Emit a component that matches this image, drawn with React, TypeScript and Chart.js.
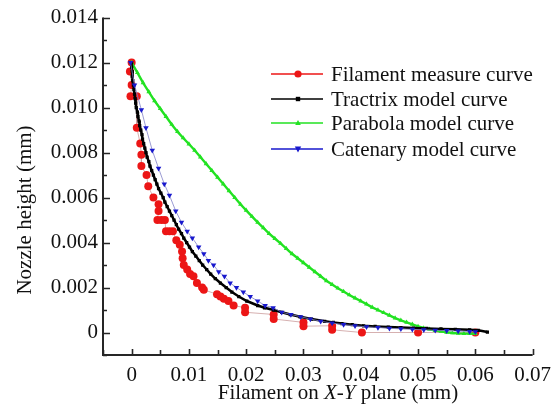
import React, { useEffect, useRef } from 'react';
import { Chart, registerables } from 'chart.js';

Chart.register(...registerables);

// ---------- data ----------
const seriesNames = [
  'Filament measure curve',
  'Tractrix model curve',
  'Parabola model curve',
  'Catenary model curve',
];

const measureX = [
  0.0000, -0.0003, 0.0000, -0.0002, 0.0009, 0.0009, 0.0015, 0.0017, 0.0017, 0.0026,
  0.0029, 0.0038, 0.0047, 0.0047, 0.0045, 0.0052, 0.0058, 0.0060, 0.0066, 0.0072,
  0.0078, 0.0084, 0.0088, 0.0089, 0.0091, 0.0097, 0.0102, 0.0108, 0.0114, 0.0123,
  0.0126, 0.0149, 0.0155, 0.0161, 0.0169, 0.0178, 0.0198, 0.0198, 0.0248, 0.0248,
  0.0300, 0.0300, 0.0350, 0.0350, 0.0402, 0.0500, 0.0600,
];
const measureY = [
  0.0120, 0.0116, 0.0110, 0.0105, 0.0105, 0.0091, 0.0084, 0.0079, 0.0074, 0.0070,
  0.0065, 0.0060, 0.0057, 0.0054, 0.0050, 0.0050, 0.0050, 0.0045, 0.0045, 0.0045,
  0.0041, 0.0039, 0.0036, 0.0033, 0.0030, 0.0028, 0.0026, 0.0025, 0.0022, 0.0020,
  0.0019, 0.0017, 0.0016, 0.0015, 0.0014, 0.0012, 0.0011, 0.0009, 0.0008, 0.0006,
  0.00045, 0.00028, 0.00030, 0.00012, 0.0000, 0.0000, 0.0000,
];

const tractrixX = [
  0.0000, 0.0000, 0.0001, 0.0001, 0.0002, 0.0003, 0.0004, 0.0005, 0.0006, 0.0007,
  0.0008, 0.0010, 0.0011, 0.0013, 0.0014, 0.0016, 0.0018, 0.0019, 0.0021, 0.0023,
  0.0025, 0.0027, 0.0030, 0.0032, 0.0035, 0.0038, 0.0041, 0.0044, 0.0047, 0.0051,
  0.0055, 0.0058, 0.0062, 0.0066, 0.0070, 0.0074, 0.0078, 0.0082, 0.0087, 0.0091,
  0.0096, 0.0101, 0.0106, 0.0112, 0.0118, 0.0124, 0.0131, 0.0138, 0.0146, 0.0155,
  0.0165, 0.0175, 0.0187, 0.0201, 0.0220, 0.0232, 0.0248, 0.0262, 0.0277, 0.0294,
  0.0314, 0.0337, 0.0352, 0.0367, 0.0385, 0.0405, 0.0425, 0.0448, 0.0470, 0.0492,
  0.0515, 0.0540, 0.0565, 0.0590, 0.0605, 0.0621,
];
const tractrixY = [
  0.0120, 0.0118, 0.0116, 0.0114, 0.0112, 0.0110, 0.0108, 0.0106, 0.0104, 0.0102,
  0.0100, 0.0098, 0.0096, 0.0094, 0.0092, 0.0090, 0.0088, 0.0086, 0.0084, 0.0082,
  0.0080, 0.0078, 0.0076, 0.0074, 0.0072, 0.0070, 0.0068, 0.0066, 0.0064, 0.0062,
  0.0060, 0.0058, 0.0056, 0.0054, 0.0052, 0.0050, 0.0048, 0.0046, 0.0044, 0.0042,
  0.0040, 0.0038, 0.0036, 0.0034, 0.0032, 0.0030, 0.0028, 0.0026, 0.0024, 0.0022,
  0.0020, 0.0018, 0.0016, 0.0014, 0.0012, 0.0011, 0.0010, 0.0009, 0.0008, 0.0007,
  0.0006, 0.0005, 0.00045, 0.0004, 0.00035, 0.0003, 0.00027, 0.00024, 0.00022, 0.0002,
  0.00018, 0.00016, 0.00014, 0.00012, 0.0001, 0.00002,
];

const parabolaX = [
  0.000, 0.001, 0.002, 0.003, 0.004, 0.005, 0.006, 0.007, 0.008, 0.009,
  0.010, 0.011, 0.012, 0.013, 0.014, 0.015, 0.016, 0.017, 0.018, 0.019,
  0.020, 0.021, 0.022, 0.023, 0.024, 0.025, 0.026, 0.027, 0.028, 0.029,
  0.030, 0.031, 0.032, 0.033, 0.034, 0.035, 0.036, 0.037, 0.038, 0.039,
  0.040, 0.041, 0.042, 0.043, 0.044, 0.045, 0.046, 0.047, 0.048, 0.049,
  0.050, 0.051, 0.052, 0.053, 0.054, 0.055, 0.056, 0.057, 0.058, 0.059, 0.060,
];
const parabolaY = [
  0.01200, 0.01155, 0.01110, 0.01070, 0.01030, 0.00995, 0.00960, 0.00925, 0.00893, 0.00865,
  0.00838, 0.00810, 0.00780, 0.00750, 0.00720, 0.00690, 0.00660, 0.00630, 0.00600, 0.00570,
  0.00543, 0.00516, 0.00490, 0.00465, 0.00440, 0.00418, 0.00396, 0.00373, 0.00350, 0.00330,
  0.00310, 0.00290, 0.00270, 0.00250, 0.00230, 0.00213, 0.00197, 0.00182, 0.00167, 0.00153,
  0.00140, 0.00126, 0.00112, 0.00100, 0.00088, 0.00076, 0.00064, 0.00054, 0.00045, 0.00036,
  0.00027, 0.00020, 0.00014, 0.00009, 0.00005, 0.00001, -0.00002, -0.00004, -0.00005, -0.00005, -0.00005,
];

const catenaryX = [
  -0.0002, 0.0005, 0.0017, 0.0025, 0.0036, 0.0047, 0.0057, 0.0066, 0.0077, 0.0087,
  0.0097, 0.0106, 0.0117, 0.0126, 0.0134, 0.0143, 0.0152, 0.0162, 0.0172, 0.0183,
  0.0195, 0.0207, 0.0220, 0.0233, 0.0247, 0.0262, 0.0278, 0.0295, 0.0312, 0.0330,
  0.0350, 0.0370, 0.0390, 0.0410, 0.0430, 0.0450, 0.0470, 0.0490, 0.0510, 0.0530,
  0.0550, 0.0570, 0.0590, 0.0600,
];
const catenaryY = [
  0.0120, 0.0110, 0.0099, 0.0091, 0.0081, 0.0073, 0.0066, 0.0061, 0.0054, 0.0049,
  0.0045, 0.0042, 0.0038, 0.0035, 0.0032, 0.0030, 0.0027, 0.0025, 0.0022, 0.0020,
  0.0018, 0.0016, 0.0014, 0.0012, 0.0011, 0.0009, 0.0008, 0.0007, 0.0006, 0.0005,
  0.00042, 0.00035, 0.00030, 0.00025, 0.00022, 0.00019, 0.00016, 0.00014, 0.00012, 0.00010,
  0.00008, 0.00006, 0.00004, 0.00003,
];

const xTickLabels = ['0', '0.01', '0.02', '0.03', '0.04', '0.05', '0.06', '0.07'];
const yTickLabels = ['0', '0.002', '0.004', '0.006', '0.008', '0.010', '0.012', '0.014'];

// ---------- styling ----------
const FONT = '"Liberation Serif", "Times New Roman", serif';
const RED = 'rgb(236,22,22)';
const BLACK = '#000000';
const GREEN = 'rgb(34,226,34)';
const BLUE = 'rgb(24,24,205)';

const toPts = (xs: number[], ys: number[]) => xs.map((x, i) => ({ x, y: ys[i] }));

const decorPlugin = {
  id: 'decor',
  afterDraw(chart: any) {
    const ctx = chart.ctx as CanvasRenderingContext2D;
    const { left, right, top, bottom } = chart.chartArea;
    const xs = chart.scales.x;
    const ys = chart.scales.y;
    ctx.save();
    // axis lines
    ctx.strokeStyle = '#262626';
    ctx.lineWidth = 2;
    ctx.beginPath();
    ctx.moveTo(left, top);
    ctx.lineTo(left, bottom);
    ctx.lineTo(right, bottom);
    ctx.stroke();
    // inward ticks
    ctx.lineWidth = 1.6;
    ctx.beginPath();
    ys.ticks.forEach((t: any) => {
      const k = Math.round(t.value * 1000);
      const p = Math.round(ys.getPixelForValue(t.value)) + 0.5;
      const len = k % 2 === 0 && k >= 0 ? 7 : 4;
      ctx.moveTo(left, p);
      ctx.lineTo(left + len, p);
    });
    xs.ticks.forEach((t: any) => {
      const k = Math.round(t.value * 1000);
      const p = Math.round(xs.getPixelForValue(t.value)) + 0.5;
      const len = k % 10 === 0 && k >= 0 ? 6 : 5;
      ctx.moveTo(p, bottom);
      ctx.lineTo(p, bottom - len);
    });
    ctx.stroke();

    // axis titles
    ctx.fillStyle = '#111';
    ctx.textBaseline = 'alphabetic';
    const normal = `21px ${FONT}`;
    const italic = `italic 21px ${FONT}`;
    const parts: [string, string][] = [
      ['Filament on ', normal],
      ['X', italic],
      ['-', normal],
      ['Y', italic],
      [' plane (mm)', normal],
    ];
    let total = 0;
    parts.forEach(([s, f]) => {
      ctx.font = f;
      total += ctx.measureText(s).width;
    });
    let cx = 338 - total / 2;
    ctx.textAlign = 'left';
    parts.forEach(([s, f]) => {
      ctx.font = f;
      ctx.fillText(s, cx, 399);
      cx += ctx.measureText(s).width;
    });

    ctx.save();
    ctx.translate(31, 210);
    ctx.rotate(-Math.PI / 2);
    ctx.font = normal;
    ctx.textAlign = 'center';
    ctx.fillText('Nozzle height (mm)', 0, 0);
    ctx.restore();

    // legend
    const colors = [RED, BLACK, GREEN, BLUE];
    const rows = [74, 99, 123, 149];
    rows.forEach((yy, i) => {
      ctx.strokeStyle = colors[i];
      ctx.lineWidth = 1.6;
      ctx.beginPath();
      ctx.moveTo(271, yy);
      ctx.lineTo(323, yy);
      ctx.stroke();
      ctx.fillStyle = colors[i];
      const mx = 298;
      ctx.beginPath();
      if (i === 0) {
        ctx.arc(mx, yy, 3.6, 0, Math.PI * 2);
      } else if (i === 1) {
        ctx.rect(mx - 2.2, yy - 2.2, 4.4, 4.4);
      } else if (i === 2) {
        ctx.moveTo(mx, yy - 3);
        ctx.lineTo(mx + 2.8, yy + 2);
        ctx.lineTo(mx - 2.8, yy + 2);
        ctx.closePath();
      } else {
        ctx.moveTo(mx - 3.2, yy - 2.5);
        ctx.lineTo(mx + 3.2, yy - 2.5);
        ctx.lineTo(mx, yy + 3.5);
        ctx.closePath();
      }
      ctx.fill();
      ctx.fillStyle = '#111';
      ctx.font = normal;
      ctx.textAlign = 'left';
      ctx.textBaseline = 'middle';
      ctx.fillText(seriesNames[i], 331, yy + 1);
    });
    ctx.restore();
  },
};

export default function App() {
  const ref = useRef<HTMLCanvasElement | null>(null);

  useEffect(() => {
    if (!ref.current) return;
    const chart = new Chart(ref.current, {
      type: 'scatter',
      data: {
        datasets: [
          {
            label: seriesNames[0],
            data: toPts(measureX, measureY),
            showLine: true,
            borderColor: 'rgba(200,150,150,0.75)',
            borderWidth: 1,
            pointStyle: 'circle',
            pointRadius: 4,
            pointBackgroundColor: RED,
            pointBorderWidth: 0,
            order: 3,
          },
          {
            label: seriesNames[1],
            data: toPts(tractrixX, tractrixY),
            showLine: true,
            borderColor: BLACK,
            borderWidth: 2.5,
            pointStyle: 'rect',
            pointRadius: 2.3,
            pointBackgroundColor: BLACK,
            pointBorderWidth: 0,
            order: 1,
          },
          {
            label: seriesNames[2],
            data: toPts(parabolaX, parabolaY),
            showLine: true,
            borderColor: GREEN,
            borderWidth: 2.4,
            pointStyle: 'triangle',
            pointRadius: 2.8,
            pointBackgroundColor: GREEN,
            pointBorderWidth: 0,
            order: 2,
          },
          {
            label: seriesNames[3],
            data: toPts(catenaryX, catenaryY),
            showLine: true,
            borderColor: 'rgba(130,130,200,0.8)',
            borderWidth: 1,
            pointStyle: 'triangle',
            rotation: 180,
            pointRadius: 3.2,
            pointBackgroundColor: BLUE,
            pointBorderWidth: 0,
            order: 0,
          },
        ] as any,
      },
      options: {
        animation: false,
        responsive: false,
        devicePixelRatio: 1,
        layout: { padding: { top: 15, right: 26, left: 0, bottom: 0 } },
        plugins: { legend: { display: false }, tooltip: { enabled: false } },
        scales: {
          x: {
            type: 'linear',
            min: -0.005,
            max: 0.07,
            grid: { display: false, drawTicks: false },
            border: { display: false },
            afterFit: (s: any) => {
              s.height = 57;
            },
            ticks: {
              stepSize: 0.005,
              autoSkip: false,
              maxRotation: 0,
              minRotation: 0,
              padding: 8,
              color: '#111',
              font: { family: FONT, size: 21 },
              callback: (v: any) => {
                const k = Math.round(Number(v) * 1000);
                if (k < 0 || k % 10 !== 0) return '';
                return xTickLabels[k / 10] ?? '';
              },
            },
          },
          y: {
            type: 'linear',
            min: -0.001,
            max: 0.014,
            grid: { display: false, drawTicks: false },
            border: { display: false },
            afterFit: (s: any) => {
              s.width = 103;
            },
            ticks: {
              stepSize: 0.001,
              autoSkip: false,
              padding: 5,
              color: '#111',
              font: { family: FONT, size: 21 },
              callback: (v: any) => {
                const k = Math.round(Number(v) * 1000);
                if (k < 0 || k % 2 !== 0) return '';
                return yTickLabels[k / 2] ?? '';
              },
            },
          },
        },
      } as any,
      plugins: [decorPlugin],
    });
    return () => chart.destroy();
  }, []);

  return (
    <div style={{ position: 'absolute', left: 0, top: 0, width: 559, height: 412, background: '#fff' }}>
      <canvas ref={ref} width={559} height={412} style={{ display: 'block' }} />
    </div>
  );
}
